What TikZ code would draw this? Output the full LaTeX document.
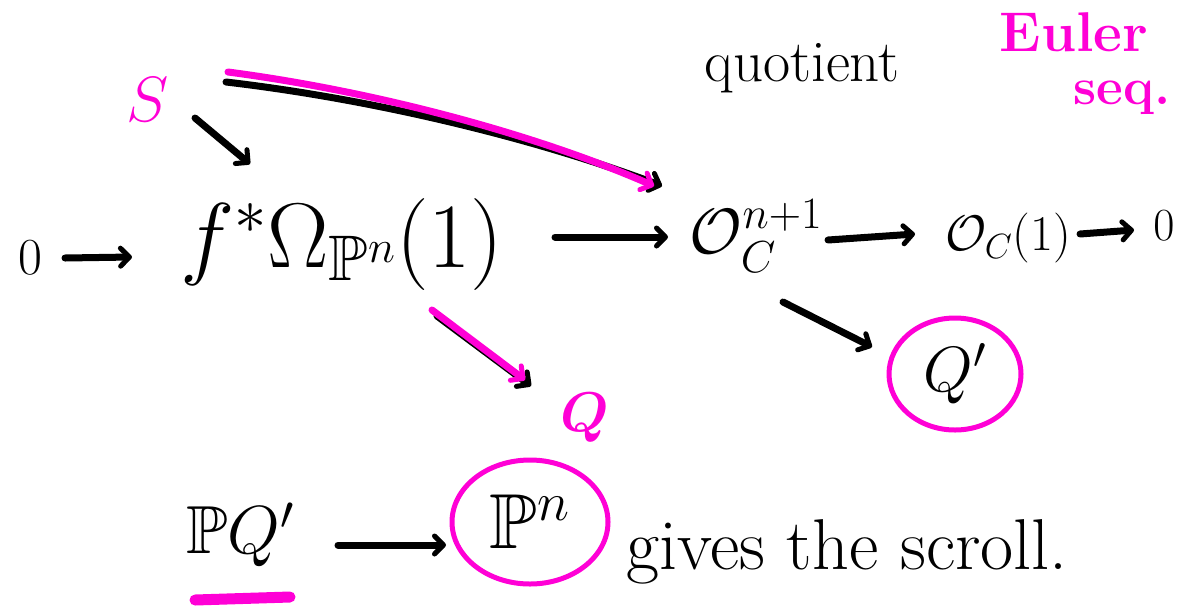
\documentclass[tikz,border=0pt]{standalone}
\usepackage{fix-cm}
\usepackage{amsmath}
\usepackage{amssymb}
\usepackage{fontspec}
\usetikzlibrary{arrows.meta,calc}
\definecolor{mag}{RGB}{255,0,214}
\begin{document}
\begin{tikzpicture}[x=1pt,y=-1pt,
  ink/.style={line width=7pt, line cap=round, line join=round},
  head/.style={-{Straight Barb[length=9pt,width=18pt,line width=5pt,round]}},
  txt/.style={inner sep=0pt, outer sep=0pt, anchor=center},
  ring/.style={mag,line width=5pt},
]
\useasboundingbox[fill=white] (0,0) rectangle (1196,614);

% top row
\node[txt,font=\fontsize{52}{58}\selectfont] (z1) at (30,258) {$0$};
\node[txt,font=\fontsize{92}{100}\selectfont] (fO) at (342,244) {$f^*\Omega_{\mathbb{P}^n}(1)$};
\node[txt,font=\fontsize{64}{72}\selectfont] (OC) at (756,236) {$\mathcal{O}_C^{n+1}$};
\node[txt,font=\fontsize{50}{58}\selectfont] (O1) at (1008,238) {$\mathcal{O}_C(1)$};
\node[txt,font=\fontsize{46}{52}\selectfont] (z2) at (1164,226) {$0$};

\draw[ink,head] ($(z1)+(35,0)$) -- ($(fO)+(-210,13)$);
\draw[ink,head] ($(fO)+(213,-7)$) -- ($(OC)+(-88,1)$);
\draw[ink,head] ($(OC)+(72,4)$) -- ($(O1)+(-93,-4)$);
\draw[ink,head] ($(O1)+(72,-4)$) -- ($(z2)+(-30,4)$);

% S and its arrows
\node[txt,text=mag,font=\fontsize{64}{70}\selectfont] (S) at (148,100) {$S$};
\node[txt,font=\fontsize{59}{66}\selectfont] (quot) at (802,68) {quotient};
\draw[ink,head] ($(S)+(47,18)$) -- ($(fO)+(-92,-80)$);
\draw[ink,head] ($(S)+(78,-18)$) .. controls (380,100) and (540,140) .. ($(OC)+(-94,-50)$);
\draw[ink,mag,head] ($(S)+(80,-28)$) .. controls (380,92) and (540,136) .. ($(OC)+(-102,-50)$);

% Euler seq.
\node[txt,text=mag,font=\fontsize{56}{60}\selectfont\bfseries] (eul) at (1074,32) {Euler};
\node[txt,text=mag,font=\fontsize{52}{56}\selectfont\bfseries] (seq) at (1122,98) {seq.};

% Q
\node[txt,text=mag,font=\fontsize{56}{60}\selectfont\bfseries] (Q) at (585,418) {$\boldsymbol{Q}$};
\draw[ink,head] ($(fO)+(95,72)$) -- ($(Q)+(-54,-32)$);
\draw[ink,mag,head] ($(fO)+(90,66)$) -- ($(Q)+(-60,-38)$);

% Q'
\node[txt,font=\fontsize{64}{70}\selectfont] (Qp) at (955,374) {$Q'$};
\draw[ring] (Qp) ellipse [x radius=66pt, y radius=56pt];
\draw[ink,head] ($(OC)+(27,66)$) -- ($(Qp)+(-83,-27)$);

% bottom row
\node[txt,font=\fontsize{68}{74}\selectfont] (PQ) at (240,535) {$\mathbb{P}Q'$};
\node[txt,font=\fontsize{78}{84}\selectfont] (Pn) at (530,522) {$\mathbb{P}^n$};
\draw[ring] (Pn) ellipse [x radius=78pt, y radius=62pt];
\draw[ink,head] ($(PQ)+(98,10)$) -- ($(Pn)+(-84,23)$);
\draw[mag,line width=11pt,line cap=round] ($(PQ)+(-45,65)$) -- ($(PQ)+(50,62)$);
\node[txt,font=\fontsize{72}{78}\selectfont,anchor=west] (gives) at (626,552) {gives the scroll.};
\end{tikzpicture}
\end{document}
